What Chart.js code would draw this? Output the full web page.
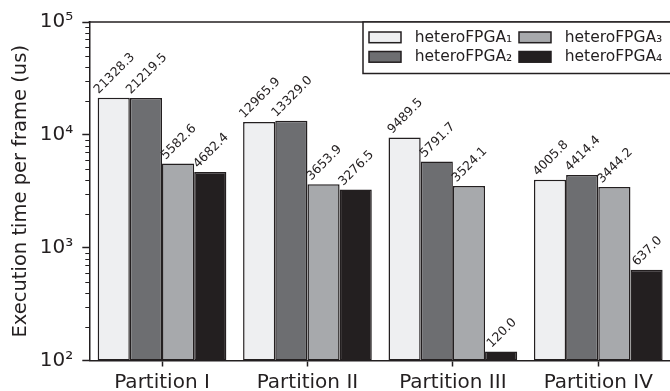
<!DOCTYPE html>
<html><head><meta charset="utf-8">
<script src="https://cdn.jsdelivr.net/npm/chart.js@4"></script>
<style>html,body{margin:0;padding:0;overflow:hidden;background:#fff;width:670px;height:391px}canvas{display:block}</style>
</head><body><canvas id="c" width="671" height="391"></canvas>
<script>
const categories = ['Partition I', 'Partition II', 'Partition III', 'Partition IV'];
const seriesNames = ['heteroFPGA₁', 'heteroFPGA₂', 'heteroFPGA₃', 'heteroFPGA₄'];
const fpga1 = [21328.3, 12965.9, 9489.5, 4005.8];
const fpga2 = [21219.5, 13329.0, 5791.7, 4414.4];
const fpga3 = [5582.6, 3653.9, 3524.1, 3444.2];
const fpga4 = [4682.4, 3276.5, 120.0, 637.0];
const yTicks = [100, 1000, 10000, 100000];
const yTickLabels = ['10²', '10³', '10⁴', '10⁵'];
const yTitle = 'Execution time per frame (us)';

const FAMILY = "'DejaVu Sans', sans-serif";
const INK = '#231f20';
const fills = ['#eeeff1', '#6d6e71', '#a7a9ac', '#231f20'];

const decor = {
  id: 'decor',
  afterDatasetsDraw(chart) {
    const ctx = chart.ctx;
    const fs = 12.5;
    ctx.save();
    ctx.font = fs + 'px ' + FAMILY;
    ctx.fillStyle = INK;
    ctx.textAlign = 'left';
    ctx.textBaseline = 'alphabetic';
    chart.data.datasets.forEach((ds, di) => {
      chart.getDatasetMeta(di).data.forEach((bar, i) => {
        const txt = ds.data[i].toFixed(1);
        const w = ctx.measureText(txt).width;
        const h = 1.17 * fs;
        const x0 = bar.x - (w - h) * Math.SQRT1_2 / 2 - 2.1;
        const y0 = bar.y - 3.5;
        ctx.save();
        ctx.translate(x0, y0);
        ctx.rotate(-Math.PI / 4);
        ctx.fillText(txt, 0, 0);
        ctx.restore();
      });
    });
    ctx.restore();
  },
  afterDraw(chart) {
    const { ctx, chartArea: a } = chart;
    const ys = chart.scales.y;
    ctx.save();
    ctx.strokeStyle = INK;
    ctx.lineWidth = 1.5;
    ctx.beginPath();
    ctx.moveTo(a.left - 0.75, a.top);
    ctx.lineTo(a.right + 5, a.top);
    ctx.stroke();
    // minor log ticks
    ctx.lineWidth = 1;
    for (let d = ys.min; d < ys.max; d *= 10) {
      for (let m = 2; m <= 9; m++) {
        const py = Math.round(ys.getPixelForValue(d * m)) + 0.5;
        ctx.beginPath();
        ctx.moveTo(a.left - 4, py);
        ctx.lineTo(a.left, py);
        ctx.stroke();
      }
    }
    // legend box
    const bx = a.right - 308, by = a.top, bh = 51.5;
    ctx.fillStyle = '#fff';
    ctx.fillRect(bx, by, a.right + 10 - bx, bh);
    ctx.lineWidth = 1.5;
    ctx.strokeRect(bx, by, a.right + 10 - bx, bh);
    ctx.font = '15.5px ' + FAMILY;
    ctx.textBaseline = 'middle';
    ctx.textAlign = 'left';
    chart.data.datasets.forEach((ds, k) => {
      const col = Math.floor(k / 2), row = k % 2;
      const px = bx + 6 + col * 150;
      const py = by + 10 + row * 19.5;
      ctx.fillStyle = ds.backgroundColor;
      ctx.fillRect(px, py, 32, 10.7);
      ctx.strokeStyle = INK;
      ctx.lineWidth = 1.5;
      ctx.strokeRect(px, py, 32, 10.7);
      ctx.fillStyle = INK;
      ctx.fillText(ds.label, px + 45.7, py + 5.6);
    });
    ctx.restore();
  }
};

const seriesData = [fpga1, fpga2, fpga3, fpga4];
new Chart(document.getElementById('c'), {
  type: 'bar',
  data: {
    labels: categories,
    datasets: seriesData.map((d, k) => ({
      label: seriesNames[k],
      data: d,
      backgroundColor: fills[k],
      borderColor: INK,
      borderWidth: 1.5,
      borderSkipped: false
    }))
  },
  options: {
    responsive: false,
    animation: false,
    devicePixelRatio: 1,
    layout: { padding: { top: 22, right: 0, left: 0, bottom: 0 } },
    datasets: { bar: { categoryPercentage: 0.885, barPercentage: 1.0 } },
    plugins: { legend: { display: false }, tooltip: { enabled: false } },
    scales: {
      x: {
        grid: { display: true, drawOnChartArea: false, offset: false, tickLength: 6, tickWidth: 1.5, tickColor: INK },
        border: { display: true, color: INK, width: 1.5 },
        ticks: { color: INK, font: { family: FAMILY, size: 20 }, padding: 4, maxRotation: 0, autoSkip: false },
        afterFit: s => { s.height = 30.5; }
      },
      y: {
        type: 'logarithmic',
        min: 100,
        max: 100000,
        afterBuildTicks: s => { s.ticks = yTicks.map(v => ({ value: v, major: true })); },
        ticks: {
          color: INK,
          font: { family: FAMILY, size: 20 },
          padding: 9,
          callback: v => { const i = yTicks.indexOf(v); return i >= 0 ? yTickLabels[i] : ''; }
        },
        grid: { drawOnChartArea: false, tickLength: 7, tickWidth: 1.5, tickColor: INK },
        border: { display: true, color: INK, width: 1.5 },
        title: { display: true, text: yTitle, color: INK, font: { family: FAMILY, size: 19.5, lineHeight: 1.2 }, padding: { top: 9, bottom: 0 } },
        afterFit: s => { s.width = 89.3; }
      }
    }
  },
  plugins: [decor]
});
</script>
</body></html>
